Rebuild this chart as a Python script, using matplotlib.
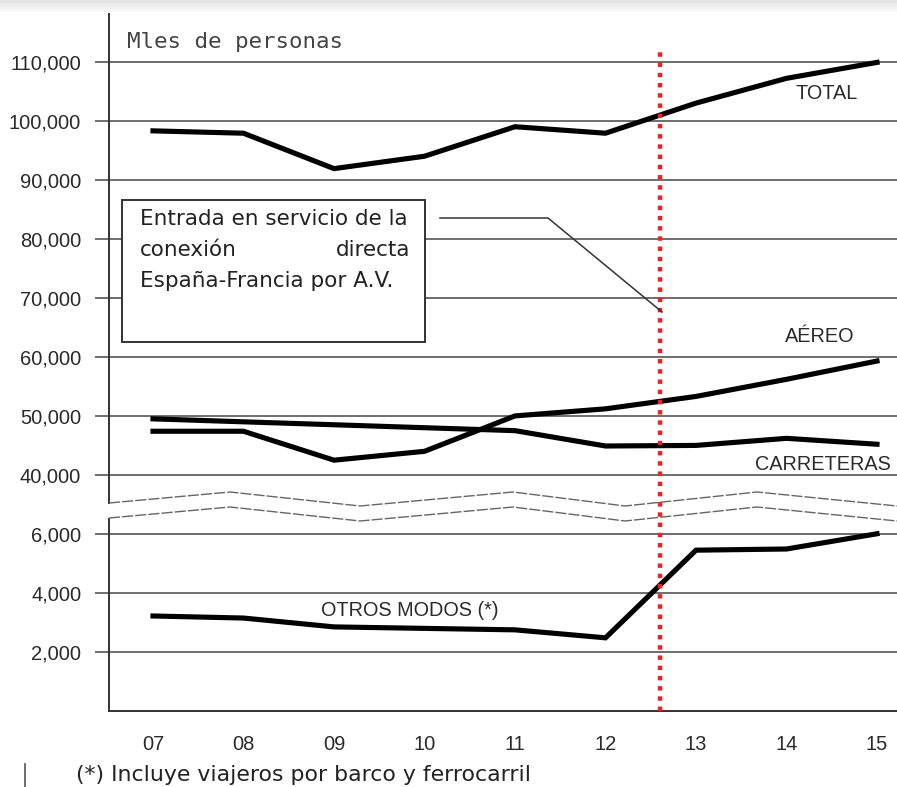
import numpy as np
import matplotlib
matplotlib.use("Agg")
import matplotlib.pyplot as plt
from matplotlib.lines import Line2D
from matplotlib.patches import Rectangle

# ---------------- data ----------------
years = ["07", "08", "09", "10", "11", "12", "13", "14", "15"]
total = [98300, 97900, 91900, 94000, 99000, 97900, 103000, 107200, 109900]
aereo = [47400, 47400, 42500, 44000, 50000, 51200, 53300, 56200, 59300]
carreteras = [49500, 49000, 48500, 48000, 47500, 44900, 45000, 46200, 45200]
otros = [3220, 3150, 2850, 2800, 2750, 2480, 5450, 5490, 6100]
yticks = [2000, 4000, 6000, 40000, 50000, 60000, 70000, 80000, 90000, 100000, 110000]
ytick_labels = ["2,000", "4,000", "6,000", "40,000", "50,000", "60,000", "70,000",
                "80,000", "90,000", "100,000", "110,000"]
event_x = 5.6  # position of the "Entrada en servicio" marker (between 12 and 13)

# ---------------- broken y scale ----------------
def fwd(v):
    v = np.asarray(v, dtype=float)
    return np.where(v <= 6000, v / 2000.0,
                    np.where(v >= 40000, (v - 40000) / 10000.0 + 4.0,
                             3.0 + (v - 6000) / 34000.0))

def inv(u):
    u = np.asarray(u, dtype=float)
    return np.where(u <= 3, u * 2000.0,
                    np.where(u >= 4, (u - 4) * 10000.0 + 40000.0,
                             6000.0 + (u - 3) * 34000.0))

W, H = 897, 787
fig = plt.figure(figsize=(W / 100, H / 100), dpi=100)
AX_L, AX_R, AX_T, AX_B = 109, 897, 14, 711
ax = fig.add_axes([AX_L / W, (H - AX_B) / H, (AX_R - AX_L) / W, (AX_B - AX_T) / H])
ax.set_yscale("function", functions=(fwd, inv))

x = np.arange(len(years))
ax.set_xlim((AX_L - 153) / 90.5, (AX_R - 153) / 90.5)
ax.set_ylim(0, 118100)

def pax(px, py):
    """figure pixel -> axes fraction"""
    return (px - AX_L) / (AX_R - AX_L), (AX_B - py) / (AX_B - AX_T)

GRID = "#555555"
TXT = "#2a2a2a"

# grid + ticks
ax.set_yticks(yticks)
ax.set_yticklabels(ytick_labels, fontfamily="Liberation Sans", fontsize=14.5, color=TXT)
ax.yaxis.grid(True, color=GRID, linewidth=1.2)
ax.tick_params(axis="y", length=10, width=1.2, color=GRID, pad=10)
ax.set_xticks(x)
ax.set_xticklabels(years, fontfamily="Liberation Sans", fontsize=14.5, color=TXT)
ax.tick_params(axis="x", length=0, pad=17)
ax.set_axisbelow(True)

for s in ["top", "right", "left"]:
    ax.spines[s].set_visible(False)
ax.spines["bottom"].set_color("#333333")
ax.spines["bottom"].set_linewidth(1.4)

# left axis line with break
for (y0, y1) in [(14, 503), (519, 711)]:
    a0 = pax(AX_L, y0); a1 = pax(AX_L, y1)
    ax.add_line(Line2D([0, 0], [a0[1], a1[1]], transform=ax.transAxes,
                       color="#333333", linewidth=1.4, clip_on=False))

# break zigzags
zx = [109, 230, 360, 513, 625, 757, 897]
zy = [503, 492, 506, 492, 506, 492, 506]
for off in (0, 15):
    pts = [pax(a, b + off) for a, b in zip(zx, zy)]
    ax.add_line(Line2D([p[0] for p in pts], [p[1] for p in pts], transform=ax.transAxes,
                       color="#666666", linewidth=1.0, linestyle=(0, (8, 1.5)), clip_on=False))

# series
for series in (total, aereo, carreteras, otros):
    ax.plot(x, series, color="black", linewidth=3.7, solid_joinstyle="miter", zorder=5)

# red event line
ax.plot([event_x, event_x], [0, 112400], color="#ee2222", linewidth=3.2,
        linestyle=(0, (1, 1.3)), zorder=6)

# series labels
lab_kw = dict(fontfamily="Liberation Sans", fontsize=14.3, color=TXT, ha="center", va="center", zorder=7)
ax.text(7.44, 104600, "TOTAL", **lab_kw)
ax.text(7.37, 63400, "AÉREO", **lab_kw)
ax.text(7.40, 41700, "CARRETERAS", **lab_kw)
ax.text(2.84, 3420, "OTROS MODOS (*)", **lab_kw)

# unit title
tx, ty = pax(127, 42)
ax.text(tx, ty, "Mles de personas", transform=ax.transAxes, fontfamily="DejaVu Sans Mono",
        fontsize=16.2, color="#444444", ha="left", va="center")

# annotation box
b0 = pax(122, 342); b1 = pax(425, 200)
ax.add_patch(Rectangle(b0, b1[0] - b0[0], b1[1] - b0[1], transform=ax.transAxes,
                       facecolor="white", edgecolor="#333333", linewidth=1.4, zorder=8))
box_kw = dict(transform=ax.transAxes, fontfamily="DejaVu Sans", fontsize=15.5,
              color="#222222", va="center", zorder=9)
p = pax(140, 219); ax.text(p[0], p[1], "Entrada en servicio de la", ha="left", **box_kw)
p = pax(140, 250); ax.text(p[0], p[1], "conexión", ha="left", **box_kw)
p = pax(410, 250); ax.text(p[0], p[1], "directa", ha="right", **box_kw)
p = pax(140, 281); ax.text(p[0], p[1], "España-Francia por A.V.", ha="left", **box_kw)

lead = [pax(440, 218), pax(548, 218), pax(662, 312)]
ax.add_line(Line2D([q[0] for q in lead], [q[1] for q in lead], transform=ax.transAxes,
                   color="#333333", linewidth=1.1, zorder=9))

# footnote
fig.text(76 / W, 1 - 775 / H, "(*) Incluye viajeros por barco y ferrocarril",
         fontfamily="DejaVu Sans", fontsize=15.8, color="#222222", ha="left", va="center")
fig.add_artist(Line2D([25 / W, 25 / W], [1 - 764 / H, 1 - 787 / H], color="#555555",
                      linewidth=1.2, transform=fig.transFigure))

# faint top shading
for i, c in enumerate(["#e4e4e4", "#ebebeb", "#f1f1f1", "#f7f7f7"]):
    fig.add_artist(Rectangle((0, 1 - (3 * (i + 1)) / H), 1, 3 / H, transform=fig.transFigure,
                             facecolor=c, edgecolor="none"))

fig.savefig("out.png", dpi=100)
